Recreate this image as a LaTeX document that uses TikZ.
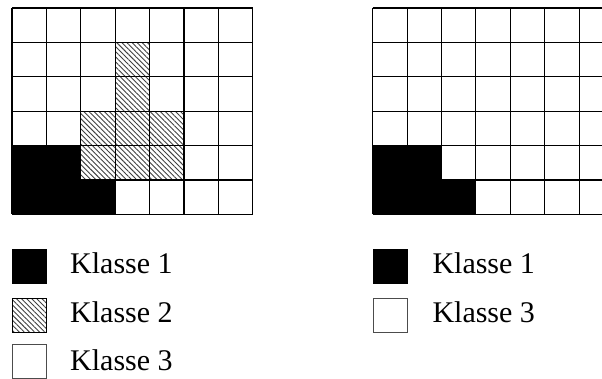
\documentclass[tikz,border=0pt]{standalone}
\usepackage{fontspec}
\setmainfont{Liberation Serif}
\usetikzlibrary{patterns.meta}
\begin{document}
\begin{tikzpicture}[x=1pt,y=-1pt,
  gridline/.style={line width=1.1pt},
  hatch/.style={pattern={Lines[angle=-45,distance=3.6pt,line width=0.9pt]},pattern color=black!75},
  lbl/.style={anchor=base west, font=\fontsize{30}{36}\selectfont, inner sep=0pt},
  keybox/.style={minimum size=34pt, inner sep=0pt, line width=0.9pt, anchor=north west}]
\useasboundingbox (0,0) rectangle (602,379);
\clip (0,0) rectangle (602,379);
% left grid
\begin{scope}[shift={(12,8)}, x=34.4pt, y=-34.4pt]
  \fill (0,4) rectangle (2,6);
  \fill (2,5) rectangle (3,6);
  \fill[hatch] (3,1) rectangle (4,3);
  \fill[hatch] (2,3) rectangle (5,5);
  \foreach \i in {0,...,7} \draw[gridline] (\i,0) -- (\i,6);
  \foreach \j in {0,...,6} \draw[gridline] (0,\j) -- (7,\j);
\end{scope}
% right grid
\begin{scope}[shift={(372.7,8)}, x=34.4pt, y=-34.4pt]
  \fill (0,4) rectangle (2,6);
  \fill (2,5) rectangle (3,6);
  \foreach \i in {0,...,7} \draw[gridline] (\i,0) -- (\i,6);
  \foreach \j in {0,...,6} \draw[gridline] (0,\j) -- (7,\j);
\end{scope}
% left legend
\node[keybox, fill=black, draw=black] (k1) at (12,249) {};
\node[keybox, hatch, draw=black] (k2) at (12,298.3) {};
\node[keybox, draw=black!70] (k3) at (12,344) {};
\node[lbl] (t1) at (70,273.3) {Klasse 1};
\node[lbl] (t2) at (70,322.3) {Klasse 2};
\node[lbl] (t3) at (70,370.3) {Klasse 3};
% right legend
\node[keybox, fill=black, draw=black] (r1) at (372.7,249) {};
\node[keybox, draw=black!70] (r3) at (372.7,298.3) {};
\node[lbl] (s1) at (432.3,273.3) {Klasse 1};
\node[lbl] (s3) at (432.3,322.3) {Klasse 3};
\end{tikzpicture}
\end{document}
